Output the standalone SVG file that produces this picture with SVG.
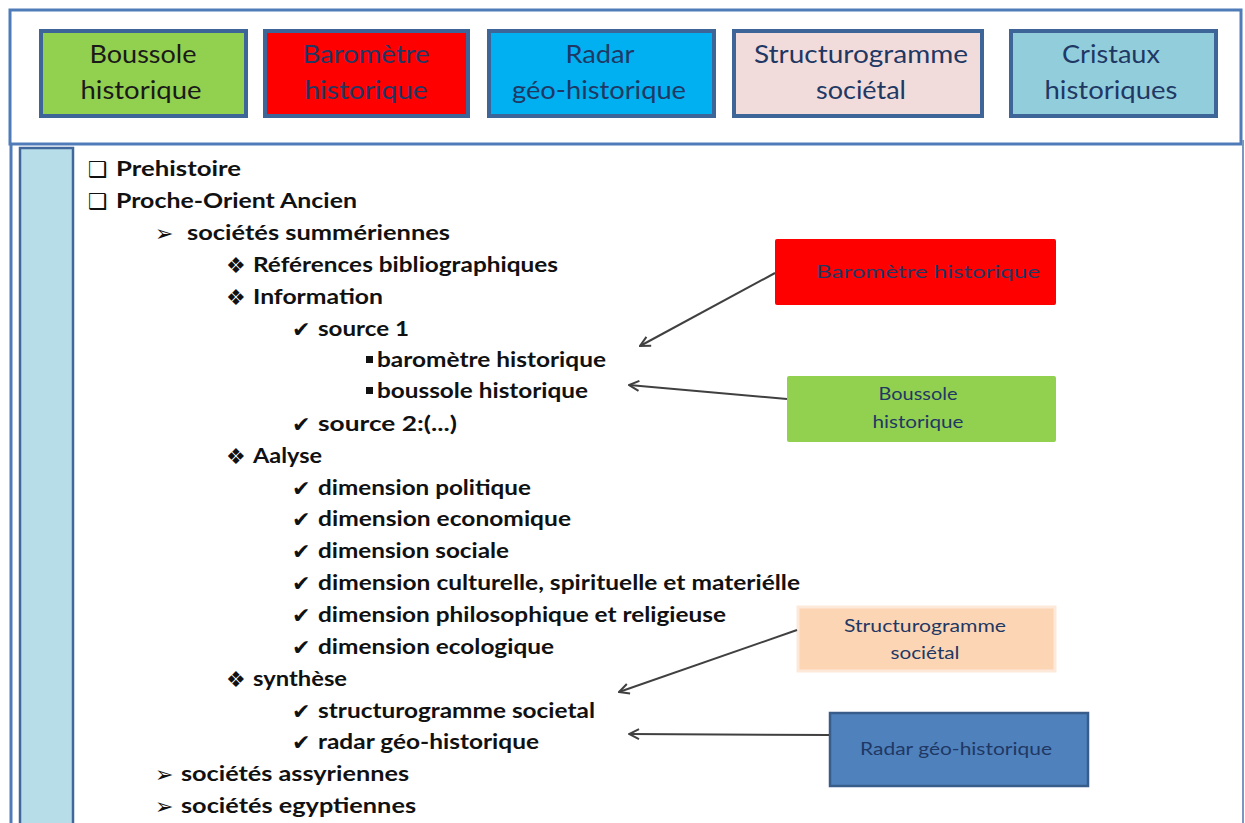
<svg xmlns="http://www.w3.org/2000/svg" width="1245" height="823" viewBox="0 0 1245 823">
<style>
.frame{fill:none;stroke:#4f7cb8;stroke-width:3}
.tb{stroke:#3e6597;stroke-width:4}
.tt{font-family:Lato,"Noto Sans",sans-serif;font-size:25px;text-anchor:middle;fill:#1f3864}
.li{font-family:Lato,"Noto Sans",sans-serif;font-size:21px;font-weight:bold;fill:#111}
.bu{font-family:"DejaVu Sans",sans-serif;font-size:22px;fill:#111}
.ct{font-family:Lato,"Noto Sans",sans-serif;font-size:17px;text-anchor:middle;fill:#1f3864}
.conn{stroke:#404040;stroke-width:2;fill:none;marker-end:url(#arr)}
</style>
<defs>
<marker id="arr" viewBox="0 0 12 12" refX="11" refY="6" markerWidth="12" markerHeight="12" markerUnits="userSpaceOnUse" orient="auto">
<path d="M1,1 L11,6 L1,11" fill="none" stroke="#404040" stroke-width="2"/>
</marker>
</defs>
<rect width="1245" height="823" fill="#fff"/>
<g id="frame">
<rect class="frame" x="10" y="10" width="1231" height="134"/>
<line class="frame" x1="11" y1="144" x2="11" y2="823"/>
<line x1="1243" y1="140" x2="1243" y2="823" stroke="#7d96c0" stroke-width="2"/>
<rect x="20" y="148" width="53" height="690" fill="#b7dde8" stroke="#41689c" stroke-width="2.5"/>
</g>
<g id="top-boussole">
<rect class="tb" x="41" y="31" width="205" height="85" fill="#92d050"/>
<text class="tt" x="143" y="63" textLength="107" lengthAdjust="spacingAndGlyphs" style="fill:#1a1a1a">Boussole</text>
<text class="tt" x="141" y="99" textLength="121" lengthAdjust="spacingAndGlyphs" style="fill:#1a1a1a">historique</text>
</g>
<g id="top-barometre">
<rect class="tb" x="265" y="31" width="203" height="85" fill="#ff0000"/>
<text class="tt" x="366" y="63" textLength="127" lengthAdjust="spacingAndGlyphs">Baromètre</text>
<text class="tt" x="366" y="99" textLength="123" lengthAdjust="spacingAndGlyphs">historique</text>
</g>
<g id="top-radar">
<rect class="tb" x="489" y="31" width="225" height="85" fill="#00b0f0"/>
<text class="tt" x="600" y="63" textLength="69" lengthAdjust="spacingAndGlyphs">Radar</text>
<text class="tt" x="599" y="99" textLength="174" lengthAdjust="spacingAndGlyphs">géo-historique</text>
</g>
<g id="top-structurogramme">
<rect class="tb" x="734" y="31" width="248" height="85" fill="#f2dcdb"/>
<text class="tt" x="861" y="63" textLength="214" lengthAdjust="spacingAndGlyphs">Structurogramme</text>
<text class="tt" x="861" y="99" textLength="90" lengthAdjust="spacingAndGlyphs">sociétal</text>
</g>
<g id="top-cristaux">
<rect class="tb" x="1011" y="31" width="205" height="85" fill="#92cddc"/>
<text class="tt" x="1111" y="63" textLength="98" lengthAdjust="spacingAndGlyphs">Cristaux</text>
<text class="tt" x="1111" y="99" textLength="133" lengthAdjust="spacingAndGlyphs">historiques</text>
</g>
<g id="outline">
<text class="bu" x="88" y="177">❑</text><text class="li" x="116" y="176" textLength="125" lengthAdjust="spacingAndGlyphs">Prehistoire</text>
<text class="bu" x="88" y="209">❑</text><text class="li" x="116" y="208" textLength="241" lengthAdjust="spacingAndGlyphs">Proche-Orient Ancien</text>
<text class="bu" x="155" y="241">➢</text><text class="li" x="187" y="240" textLength="263" lengthAdjust="spacingAndGlyphs">sociétés summériennes</text>
<text class="bu" x="226" y="273">❖</text><text class="li" x="253" y="272" textLength="305" lengthAdjust="spacingAndGlyphs">Références bibliographiques</text>
<text class="bu" x="226" y="305">❖</text><text class="li" x="253" y="304" textLength="130" lengthAdjust="spacingAndGlyphs">Information</text>
<text class="bu" x="292" y="337">✔</text><text class="li" x="318" y="336" textLength="91" lengthAdjust="spacingAndGlyphs">source 1</text>
<rect x="366" y="356" width="7" height="7" fill="#111"/><text class="li" x="377" y="367" textLength="229" lengthAdjust="spacingAndGlyphs">baromètre historique</text>
<rect x="366" y="387" width="7" height="7" fill="#111"/><text class="li" x="377" y="398" textLength="211" lengthAdjust="spacingAndGlyphs">boussole historique</text>
<text class="bu" x="292" y="432">✔</text><text class="li" x="318" y="431" textLength="139" lengthAdjust="spacingAndGlyphs">source 2:(...)</text>
<text class="bu" x="226" y="464">❖</text><text class="li" x="253" y="463" textLength="69" lengthAdjust="spacingAndGlyphs">Aalyse</text>
<text class="bu" x="292" y="496">✔</text><text class="li" x="318" y="495" textLength="213" lengthAdjust="spacingAndGlyphs">dimension politique</text>
<text class="bu" x="292" y="527">✔</text><text class="li" x="318" y="526" textLength="253" lengthAdjust="spacingAndGlyphs">dimension economique</text>
<text class="bu" x="292" y="559">✔</text><text class="li" x="318" y="558" textLength="191" lengthAdjust="spacingAndGlyphs">dimension sociale</text>
<text class="bu" x="292" y="591">✔</text><text class="li" x="318" y="590" textLength="482" lengthAdjust="spacingAndGlyphs">dimension culturelle, spirituelle et materiélle</text>
<text class="bu" x="292" y="623">✔</text><text class="li" x="318" y="622" textLength="408" lengthAdjust="spacingAndGlyphs">dimension philosophique et religieuse</text>
<text class="bu" x="292" y="655">✔</text><text class="li" x="318" y="654" textLength="236" lengthAdjust="spacingAndGlyphs">dimension ecologique</text>
<text class="bu" x="226" y="687">❖</text><text class="li" x="253" y="686" textLength="94" lengthAdjust="spacingAndGlyphs">synthèse</text>
<text class="bu" x="292" y="719">✔</text><text class="li" x="318" y="718" textLength="277" lengthAdjust="spacingAndGlyphs">structurogramme societal</text>
<text class="bu" x="292" y="750">✔</text><text class="li" x="318" y="749" textLength="221" lengthAdjust="spacingAndGlyphs">radar géo-historique</text>
<text class="bu" x="155" y="782">➢</text><text class="li" x="181" y="781" textLength="228" lengthAdjust="spacingAndGlyphs">sociétés assyriennes</text>
<text class="bu" x="155" y="814">➢</text><text class="li" x="181" y="813" textLength="235" lengthAdjust="spacingAndGlyphs">sociétés egyptiennes</text>
</g>
<g id="call-barometre">
<rect x="775" y="239" width="281" height="66" rx="2" fill="#ff0000"/>
<text class="ct" x="928" y="278" textLength="224" lengthAdjust="spacingAndGlyphs">Baromètre historique</text>
</g>
<g id="call-boussole">
<rect x="787" y="376" width="269" height="66" rx="2" fill="#92d050"/>
<text class="ct" x="918" y="400" textLength="79" lengthAdjust="spacingAndGlyphs">Boussole</text>
<text class="ct" x="918" y="428" textLength="91" lengthAdjust="spacingAndGlyphs">historique</text>
</g>
<g id="call-structurogramme">
<rect x="798" y="607" width="257" height="64" fill="#fcd5b4" stroke="#fde9d9" stroke-width="3"/>
<text class="ct" x="925" y="632" textLength="162" lengthAdjust="spacingAndGlyphs">Structurogramme</text>
<text class="ct" x="925" y="659" textLength="69" lengthAdjust="spacingAndGlyphs">sociétal</text>
</g>
<g id="call-radar">
<rect x="830" y="713" width="258" height="73" fill="#4f81bd" stroke="#385d8a" stroke-width="2.5"/>
<text class="ct" x="956" y="755" textLength="192" lengthAdjust="spacingAndGlyphs">Radar géo-historique</text>
</g>
<g id="connectors">
<line class="conn" x1="775" y1="273" x2="640" y2="346"/>
<line class="conn" x1="787" y1="399" x2="629" y2="385"/>
<line class="conn" x1="797" y1="630" x2="619" y2="692"/>
<line class="conn" x1="829" y1="735" x2="629" y2="734"/>
</g>
</svg>
